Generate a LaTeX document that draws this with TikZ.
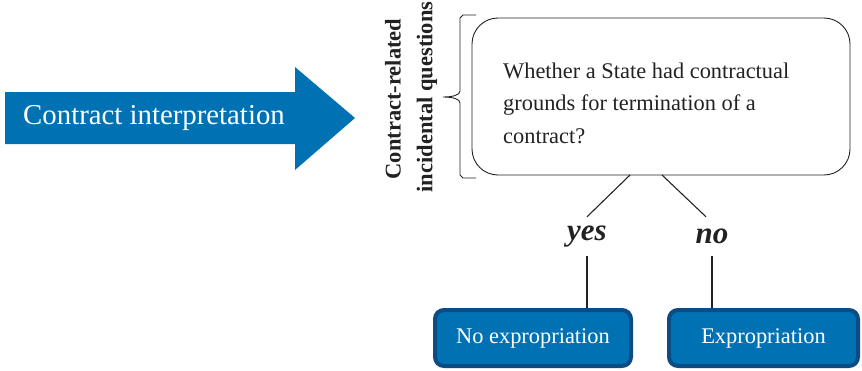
\documentclass[tikz,border=0pt]{standalone}
\usepackage{fontspec}
\setmainfont{Liberation Serif}
\definecolor{fillblue}{HTML}{0072B4}
\definecolor{edgeblue}{HTML}{0C4C82}
\definecolor{ink}{HTML}{222222}
\begin{document}
\begin{tikzpicture}[x=1pt,y=-1pt,
  outcome/.style={draw=edgeblue, fill=fillblue, line width=4pt, rounded corners=9pt,
    text=white, font=\fontsize{22.4}{26}\selectfont, inner sep=0pt},
  answer/.style={font=\fontsize{31}{31}\selectfont\bfseries\itshape, text=ink,
    minimum height=39pt, inner sep=0pt},
  sidelabel/.style={rotate=90, font=\fontsize{22.5}{26}\selectfont\bfseries, text=ink, inner sep=0pt},
  link/.style={draw=ink, line width=1.1pt}]
\useasboundingbox (0,0) rectangle (862,370);

% big arrow on the left
\fill[fillblue] (5,92) -- (295,92) -- (295,67) -- (355,118) -- (295,170) -- (295,144) -- (5,144) -- cycle;
\node[text=white, font=\fontsize{28.8}{32}\selectfont, inner sep=0pt] (ci) at (154,118) {Contract interpretation};

% question box
\node[draw=ink, line width=0.9pt, rounded corners=26pt, minimum width=378pt, minimum height=157pt] (q) at (661,96.5) {};
\node[anchor=north west, align=left, text=ink, inner sep=0pt,
      font=\fontsize{22.4}{32.5}\selectfont] (qt) at (503,62.5)
  {Whether a State had contractual\\grounds for termination of a\\contract?};

% brace and its rotated labels
\draw[ink, line width=0.9pt] (476,15) -- (463,15) -- (460,18) -- (460,91)
  .. controls (460,95) and (453,97) .. (443,97)
  .. controls (453,97) and (460,99) .. (460,103) -- (460,175) -- (463,178) -- (476,178);
\node[sidelabel] (lab1) at (393,99) {Contract-related};
\node[sidelabel] (lab2) at (427,97) {incidental questions};

% answers
\node[answer] (yes) at (587,236.5) {yes};
\node[answer] (no) at (712,236.5) {no};
\coordinate (ya) at (630,175);
\coordinate (na) at (662,175);

% outcomes
\node[outcome, minimum width=196pt, minimum height=56pt] (noexp) at (533,338) {No expropriation};
\node[outcome, minimum width=189pt, minimum height=56pt] (exp) at (763.5,338) {Expropriation};

% connectors
\draw[link] (ya) -- (yes.north);
\draw[link] (na) -- ([xshift=-6pt]no.north);
\draw[link] (yes.south) -- (yes.south |- noexp.north);
\draw[link] (no.south) -- (no.south |- exp.north);
\end{tikzpicture}
\end{document}
